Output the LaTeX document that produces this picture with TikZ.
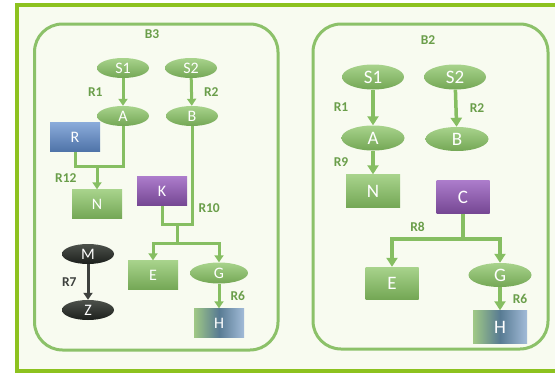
\documentclass[tikz,border=0pt]{standalone}
\usepackage{fontspec}
\setmainfont{Carlito}
\usetikzlibrary{shapes.geometric,arrows.meta,positioning}
\definecolor{framelime}{HTML}{8DC21F}
\definecolor{paper}{HTML}{F8FBF0}
\definecolor{boxline}{HTML}{8CC169}
\definecolor{leafhi}{HTML}{A8D38C}
\definecolor{leaflo}{HTML}{74A755}
\definecolor{plumhi}{HTML}{AC7CCB}
\definecolor{plumlo}{HTML}{754793}
\definecolor{skyhi}{HTML}{8AABDA}
\definecolor{skylo}{HTML}{4F73A8}
\definecolor{steel}{HTML}{587B93}
\definecolor{steelhi}{HTML}{A2BBD8}
\definecolor{inkhi}{HTML}{4D514B}
\definecolor{inklo}{HTML}{1C1F1C}
\definecolor{wiregreen}{HTML}{86BE62}
\definecolor{rlabel}{HTML}{6A9E4A}

\begin{document}
\begin{tikzpicture}[x=1pt,y=-1pt]
        \tikzset{oval/.style = {shape=ellipse,inner sep=0pt,text=white,top color=leafhi,bottom color=leaflo,minimum width=52pt,minimum height=20pt,font=\fontsize{16}{16}\selectfont}}
        \tikzset{box/.style = {shape=rectangle,inner sep=0pt,text=white,top color=leafhi,bottom color=leaflo,minimum width=50pt,minimum height=29pt,font=\fontsize{16}{16}\selectfont}}
        \tikzset{tinted/.style = {left color=leafhi!95!black,right color=steelhi,middle color=steel}}
        \tikzset{big/.style = {font=\fontsize{19}{19}\selectfont}}
        \tikzset{lbl/.style = {inner sep=0pt,text=rlabel,font=\bfseries\fontsize{13.5}{13.5}\selectfont}}
        \tikzset{link/.style = {wiregreen,line width=3pt}}
        \tikzset{edge/.style = {-{Triangle[width=9pt,length=7pt]},wiregreen,line width=3pt}}
        \tikzset{linkbig/.style = {wiregreen,line width=3.5pt}}
        \tikzset{edgebig/.style = {-{Triangle[width=11pt,length=9pt]},wiregreen,line width=3.5pt}}
        \useasboundingbox (0,0) rectangle (555,375);
        % frames
        \draw[framelime,line width=4pt,fill=paper] (17,5) rectangle (565,371);
        \draw[boxline,line width=3pt,rounded corners=28pt] (34.5,24) rectangle (278,350);
        \draw[boxline,line width=3pt,rounded corners=28pt] (313,24) rectangle (548,349);
        \node[lbl] (b3) at (152,34) {B3};
        \node[lbl] (b2) at (428,40) {B2};
        % vertices B3
        \node[oval] (s1) at (123,68) {S1};
        \node[oval] (s2) at (191,68) {S2};
        \node[oval] (a) at (123,116) {A};
        \node[oval] (b) at (192,116) {B};
        \node[box,top color=skyhi,bottom color=skylo] (r) at (75,137) {R};
        \node[box] (n) at (97,204) {N};
        \node[box,top color=plumhi,bottom color=plumlo] (k) at (162,191) {K};
        \node[box] (e) at (153,275) {E};
        \node[oval,minimum width=58pt,minimum height=21pt] (g) at (219,273) {G};
        \node[box,tinted] (h) at (219,323) {H};
        \node[oval,top color=inkhi,bottom color=inklo] (m) at (88,254) {M};
        \node[oval,top color=inkhi,bottom color=inklo] (z) at (88,310) {Z};
        % vertices B2
        \node[oval,big,minimum width=62pt,minimum height=25pt] (s1b) at (373,77) {S1};
        \node[oval,big,minimum width=62pt,minimum height=25pt] (s2b) at (455,77) {S2};
        \node[oval,big,minimum width=63pt,minimum height=25pt] (ab) at (373,138) {A};
        \node[oval,big,minimum width=63pt,minimum height=24pt] (bb) at (457,139) {B};
        \node[box,big,minimum width=54pt,minimum height=33pt] (nb) at (373,191) {N};
        \node[box,big,minimum width=53pt,minimum height=33pt,top color=plumhi,bottom color=plumlo] (cb) at (463,197) {C};
        \node[box,big,minimum width=53pt,minimum height=32pt] (eb) at (392,283) {E};
        \node[oval,big,minimum width=63pt,minimum height=24pt] (gb) at (500,275) {G};
        \node[box,big,minimum width=54pt,minimum height=33pt,tinted] (hb) at (500,327) {H};
        %edges B3
        \draw[edge] (s1) -- node[lbl,left=19pt] {R1} (a);
        \draw[edge] (s2) -- node[lbl,right=11pt] {R2} (b);
        \coordinate (ra) at (97,166);
        \draw[link] (a) |- (ra) -| (r);
        \draw[edge] (ra) -- node[lbl,left=19pt] {R12} (n);
        \coordinate (bk) at (177,224);
        \draw[link] (b) |- node[lbl,pos=0.42,right=5pt] {R10} (bk) -| (k);
        \coordinate (eg) at (177,243);
        \draw[link] (bk) -- (eg);
        \draw[edge] (eg) -| (e);
        \draw[edge] (eg) -| (g);
        \draw[edge] (g) -- node[lbl,right=10pt] {R6} (h);
        \draw[edge,inklo!85] (m) -- node[lbl,text=inklo!85,left=10pt] {R7} (z);
        %edges B2
        \draw[edgebig] (s1b) -- node[lbl,left=23pt] {R1} (ab);
        \draw[edgebig] (s2b) -- node[lbl,right=12pt] {R2} (bb);
        \draw[edgebig] (ab) -- node[lbl,left=23pt] {R9} (nb);
        \coordinate (cj) at (463,239);
        \draw[linkbig] (cb) -- (cj);
        \draw[edgebig] (cj) -| node[lbl,pos=0.32,above=6pt] {R8} (eb);
        \draw[edgebig] (cj) -| (gb);
        \draw[edgebig] (gb) -- node[lbl,right=11pt] {R6} (hb);
\end{tikzpicture}
\end{document}
